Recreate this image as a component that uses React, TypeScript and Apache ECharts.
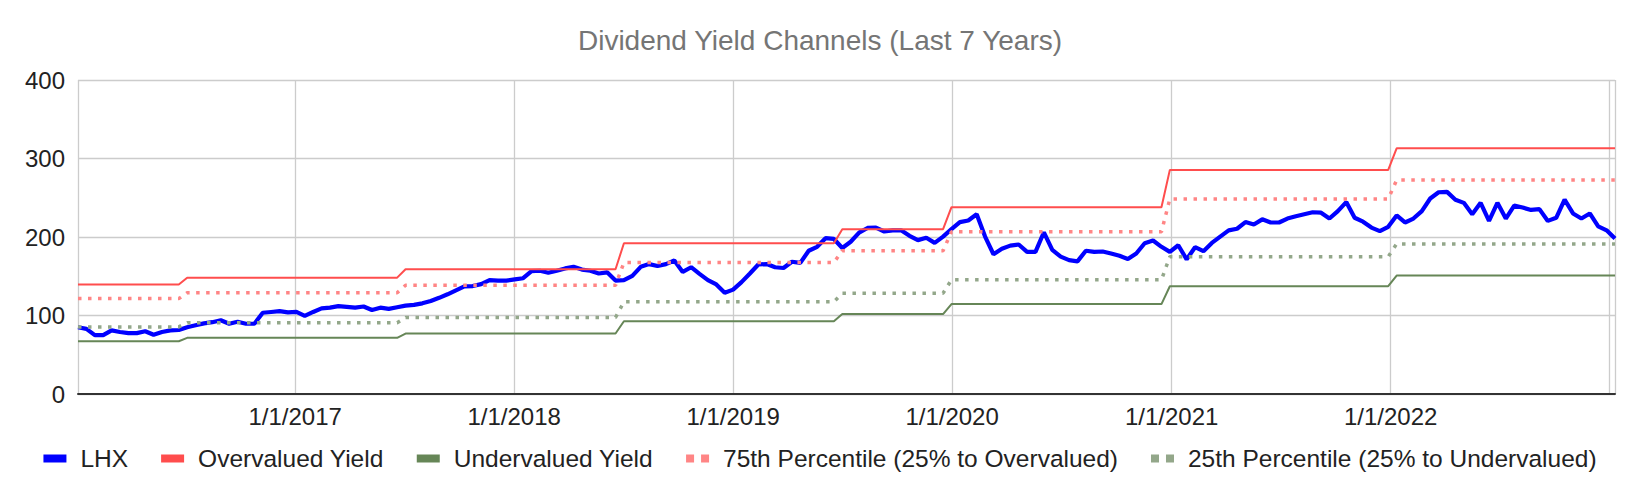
import React, { useEffect, useRef } from "react";
import * as echarts from "echarts";

// ---- Data ----
// LHX samples, every two weeks starting 2016-01-05
const START_YEAR = 2016;
const START_MONTH = 0;
const START_DAY = 5;
const STEP_DAYS = 14;

const LHX = [
  85, 83, 75, 75, 81, 79, 77.5, 77.5, 80, 75.5,
  79, 81, 81.5, 85, 87.5, 90, 91.5, 94, 89.5, 92,
  89.5, 89.5, 103.5, 104.5, 105.5, 104, 104.5, 99.5, 104.5, 109,
  110, 112, 111, 110, 111.5, 107, 110, 108.5, 110.5, 112.5,
  113.5, 115.5, 118.5, 122.5, 127, 132, 137, 137.5, 140, 145,
  144.5, 144.5, 146, 147.5, 156.5, 157, 154.5, 157, 160, 162,
  158.5, 157, 153.5, 155, 144.5, 145, 150.5, 162, 165.5, 163,
  165.5, 170, 155.5, 161.5, 153, 145, 139.5, 129, 133, 142.5,
  153.5, 165, 165.5, 161.5, 160.5, 168.5, 167, 182.5, 187.5, 198.5,
  197.5, 186, 194, 205.5, 211.5, 212, 207, 208.5, 208.5, 201.5,
  196, 199, 192.5, 200.5, 210, 219, 221, 229, 200.5, 178,
  185, 189, 190.5, 181, 181, 206, 183.5, 175, 170.5, 169,
  182.5, 181, 181.5, 179, 176, 172, 179, 192, 195.5, 187.5,
  181, 189.5, 171.5, 187, 182, 192.5, 200.5, 208.5, 210.5, 219,
  216, 222.5, 218.5, 218.5, 223.5, 226.5, 229, 231.5, 231, 223.5,
  233, 244.5, 224.5, 219.5, 212, 207.5, 213, 227.5, 218.5, 223.5,
  233, 249, 257, 257.5, 247.5, 243.5, 229, 243.5, 220.5, 243.5,
  223.5, 240, 237.5, 234.5, 235.5, 220.5, 224.5, 247.5, 230, 223.5,
  230, 213.5, 208.5, 198,
];

// sample index at which each new channel level starts
const STEP_INDEX = [13, 39, 65, 91, 104, 130, 157];
const OVERVALUED = [139.5, 148.2, 159, 192, 210, 238, 285.5, 313];
const P75 = [121.5, 129, 138.5, 167.5, 182.5, 206.7, 248.5, 272.5];
const P25 = [85.5, 90.8, 97.5, 117.5, 128.5, 145.5, 175, 191.2];
const UNDERVALUED = [67.2, 71.5, 77, 92.6, 101.8, 114.5, 137.3, 150.8];

const Y_TICKS = [0, 100, 200, 300, 400];

const SERIES_NAMES = [
  "LHX",
  "Overvalued Yield",
  "Undervalued Yield",
  "75th Percentile (25% to Overvalued)",
  "25th Percentile (25% to Undervalued)",
];

const FONT = "Liberation Sans, Arial, Helvetica, sans-serif";

export default function App() {
  const ref = useRef<HTMLDivElement>(null);

  useEffect(() => {
    if (!ref.current) return;
    const chart = echarts.init(ref.current, null, { renderer: "svg" });

    const DAY = 86400000;
    const start = new Date(START_YEAR, START_MONTH, START_DAY).getTime();
    const dates = LHX.map((_, i) => start + i * STEP_DAYS * DAY);
    const levelAt = (i: number) => STEP_INDEX.filter((s) => s <= i).length;
    const band = (levels: number[]) =>
      dates.map((d, i) => [d, levels[levelAt(i)]]);

    const DOT_ICON = "path://M0,0H8V8H0Z M15,0H23V8H15Z";

    chart.setOption({
      animation: false,
      backgroundColor: "#ffffff",
      title: {
        text: "Dividend Yield Channels (Last 7 Years)",
        left: "center",
        top: 21,
        textStyle: {
          fontFamily: FONT,
          fontSize: 28,
          fontWeight: "normal",
          color: "#757575",
        },
      },
      legend: {
        top: 441,
        left: "center",
        itemWidth: 23,
        itemHeight: 8,
        itemGap: 33,
        textStyle: {
          fontFamily: FONT,
          fontSize: 24.5,
          color: "#222222",
          padding: [0, 0, 0, 9],
        },
        data: [
          { name: SERIES_NAMES[0], icon: "rect" },
          { name: SERIES_NAMES[1], icon: "rect" },
          { name: SERIES_NAMES[2], icon: "rect" },
          { name: SERIES_NAMES[3], icon: DOT_ICON },
          { name: SERIES_NAMES[4], icon: DOT_ICON },
        ],
      },
      grid: { left: 78, right: 25, top: 80, bottom: 100, containLabel: false },
      xAxis: {
        type: "time",
        min: dates[0],
        max: dates[dates.length - 1],
        splitNumber: 7,
        minInterval: 365 * DAY,
        axisLine: { show: true, lineStyle: { color: "#333333", width: 2 } },
        axisTick: { show: false },
        splitLine: { show: true, lineStyle: { color: "#cccccc", width: 1.3 } },
        axisLabel: {
          fontFamily: FONT,
          fontSize: 24,
          color: "#222222",
          margin: 10,
          showMinLabel: false,
          showMaxLabel: false,
          formatter: (val: number) => {
            const d = new Date(val);
            if (val > dates[dates.length - 1] - 20 * DAY) return "";
            return `${d.getMonth() + 1}/${d.getDate()}/${d.getFullYear()}`;
          },
        },
      },
      yAxis: {
        type: "value",
        min: Y_TICKS[0],
        max: Y_TICKS[Y_TICKS.length - 1],
        interval: 100,
        axisLine: { show: false },
        axisTick: { show: false },
        splitLine: { show: true, lineStyle: { color: "#cccccc", width: 1.3 } },
        axisLabel: {
          fontFamily: FONT,
          fontSize: 24,
          color: "#222222",
          margin: 13,
        },
      },
      series: [
        {
          name: SERIES_NAMES[0],
          type: "line",
          data: dates.map((d, i) => [d, LHX[i]]),
          showSymbol: false,
          symbol: "none",
          lineStyle: { color: "#0000ff", width: 4.2 },
          itemStyle: { color: "#0000ff" },
        },
        {
          name: SERIES_NAMES[1],
          type: "line",
          data: band(OVERVALUED),
          symbol: "none",
          lineStyle: { color: "#ff4d4d", width: 2 },
          itemStyle: { color: "#ff4d4d" },
        },
        {
          name: SERIES_NAMES[2],
          type: "line",
          data: band(UNDERVALUED),
          symbol: "none",
          lineStyle: { color: "#668657", width: 2 },
          itemStyle: { color: "#668657" },
        },
        {
          name: SERIES_NAMES[3],
          type: "line",
          data: band(P75),
          symbol: "none",
          lineStyle: { color: "#ff8585", width: 3.5, type: [3.5, 6.5], cap: "butt" },
          itemStyle: { color: "#ff8585" },
        },
        {
          name: SERIES_NAMES[4],
          type: "line",
          data: band(P25),
          symbol: "none",
          lineStyle: { color: "#93a78a", width: 3.5, type: [3.5, 6.5], cap: "butt" },
          itemStyle: { color: "#93a78a" },
        },
      ],
    });

    return () => chart.dispose();
  }, []);

  return (
    <div
      ref={ref}
      style={{ position: "fixed", left: 0, top: 0, width: 1640, height: 494, background: "#fff" }}
    />
  );
}
